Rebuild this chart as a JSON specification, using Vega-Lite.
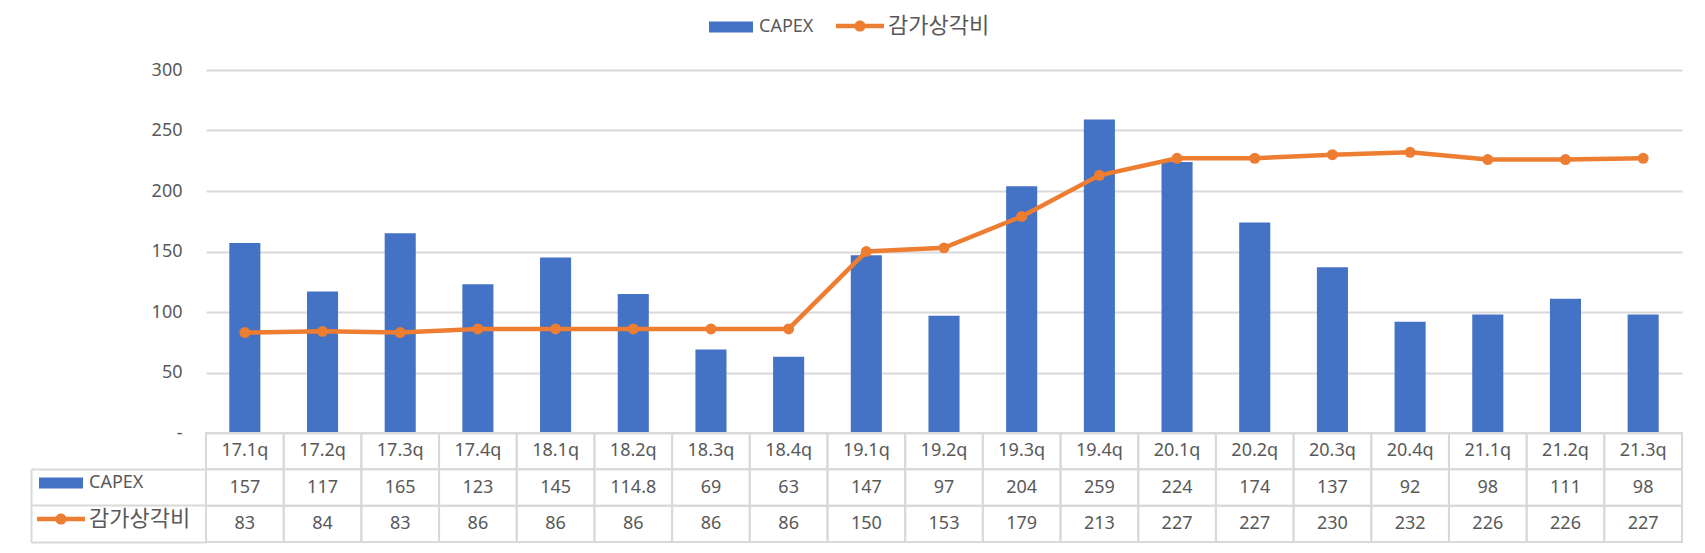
{
  "$schema": "https://vega.github.io/schema/vega-lite/v6.json",
  "padding": {"left": 30, "top": 15, "right": 5, "bottom": 5},
  "config": {"view": {"stroke": null}, "font": "Noto Sans"},
  "datasets": {
    "quarters": [
      {"q": "17.1q", "capex": 157, "dep": 83},
      {"q": "17.2q", "capex": 117, "dep": 84},
      {"q": "17.3q", "capex": 165, "dep": 83},
      {"q": "17.4q", "capex": 123, "dep": 86},
      {"q": "18.1q", "capex": 145, "dep": 86},
      {"q": "18.2q", "capex": 114.8, "dep": 86},
      {"q": "18.3q", "capex": 69, "dep": 86},
      {"q": "18.4q", "capex": 63, "dep": 86},
      {"q": "19.1q", "capex": 147, "dep": 150},
      {"q": "19.2q", "capex": 97, "dep": 153},
      {"q": "19.3q", "capex": 204, "dep": 179},
      {"q": "19.4q", "capex": 259, "dep": 213},
      {"q": "20.1q", "capex": 224, "dep": 227},
      {"q": "20.2q", "capex": 174, "dep": 227},
      {"q": "20.3q", "capex": 137, "dep": 230},
      {"q": "20.4q", "capex": 92, "dep": 232},
      {"q": "21.1q", "capex": 98, "dep": 226},
      {"q": "21.2q", "capex": 111, "dep": 226},
      {"q": "21.3q", "capex": 98, "dep": 227}
    ]
  },
  "spacing": 0,
  "bounds": "flush",
  "resolve": {
    "scale": {"x": "independent", "y": "independent", "color": "independent", "stroke": "independent"},
    "legend": {"color": "independent", "stroke": "independent"}
  },
  "vconcat": [
    {
      "width": 1476,
      "height": 363,
      "data": {"name": "quarters"},
      "encoding": {
        "x": {"field": "q", "type": "ordinal", "sort": null, "axis": null,
              "scale": {"paddingInner": 0.6, "paddingOuter": 0.3}}
      },
      "layer": [
        {
          "mark": {"type": "bar"},
          "encoding": {
            "y": {
              "field": "capex", "type": "quantitative",
              "scale": {"domain": [0, 300]},
              "axis": {
                "title": null,
                "values": [0, 50, 100, 150, 200, 250, 300],
                "labelExpr": "datum.value === 0 ? '-' : datum.label",
                "domain": false, "ticks": false,
                "labelPadding": 24, "labelFontSize": 18, "labelColor": "#595959", "labelFont": "Noto Sans",
                "gridColor": "#d9d9d9", "gridWidth": 2
              }
            },
            "color": {
              "datum": "CAPEX",
              "scale": {"domain": ["CAPEX", "감가상각비"], "range": ["#4472c4", "#ed7d31"]},
              "legend": {
                "orient": "none", "legendX": 496, "legendY": -55,
                "direction": "horizontal", "title": null,
                "symbolSize": 64, "symbolStrokeWidth": 0,
                "symbolOffset": 18, "labelOffset": 17, "columnPadding": 17,
                "labelFont": "Noto Sans", "labelFontSize": 18, "labelColor": "#595959", "labelLimit": 0,
                "encode": {
                  "symbols": {"update": {
                    "shape": {"signal": "datum.value === 'CAPEX' ? 'M-5.5,-1.375H5.5V1.375H-5.5Z' : 'M-6,-0.55H6V0.55H-6Z M1.4,0A1.4,1.4,0,1,1,-1.4,0A1.4,1.4,0,1,1,1.4,0Z'"},
                    "fill": {"signal": "datum.value === 'CAPEX' ? '#4472c4' : '#ed7d31'"},
                    "stroke": {"value": "transparent"},
                    "opacity": {"value": 1}
                  }},
                  "labels": {"update": {
                    "fontSize": {"signal": "datum.value === 'CAPEX' ? 18 : 22"},
                    "font": {"signal": "datum.value === 'CAPEX' ? 'Noto Sans' : 'Noto Sans CJK KR'"}
                  }}
                }
              }
            }
          }
        },
        {
          "mark": {"type": "line", "strokeWidth": 4.5, "strokeCap": "round",
                   "point": {"filled": true, "size": 120}},
          "encoding": {
            "y": {"field": "dep", "type": "quantitative", "axis": {"title": null}},
            "color": {"datum": "감가상각비"}
          }
        }
      ]
    },
    {
      "width": 1476,
      "height": 109,
      "data": {"name": "quarters"},
      "encoding": {
        "x": {"field": "q", "type": "ordinal", "sort": null, "axis": null,
              "scale": {"paddingInner": 0, "paddingOuter": 0}}
      },
      "layer": [
        {
          "mark": {"type": "rect", "filled": false, "stroke": "#d9d9d9", "strokeWidth": 2},
          "encoding": {
            "y": {
              "datum": "header", "type": "nominal",
              "scale": {"domain": ["header", "capex", "dep"], "paddingInner": 0, "paddingOuter": 0},
              "axis": {
                "orient": "left", "offset": 175, "title": null, "labels": false, "grid": false,
                "ticks": true, "tickSize": -175, "bandPosition": 1,
                "tickColor": "#d9d9d9", "tickWidth": 2,
                "domain": true, "domainColor": "#d9d9d9", "domainWidth": 2,
                "domainDash": [0, 36.33, 80]
              }
            }
          }
        },
        {
          "transform": [{"fold": ["capex", "dep"], "as": ["row", "val"]}],
          "mark": {"type": "rect", "filled": false, "strokeWidth": 2},
          "encoding": {
            "y": {"field": "row", "type": "nominal"},
            "stroke": {
              "field": "row", "type": "nominal",
              "scale": {"domain": ["capex", "dep"], "range": ["#d9d9d9", "#d9d9d9"]},
              "legend": {
                "orient": "none", "legendX": -174, "legendY": 39,
                "direction": "vertical", "title": null,
                "labelExpr": "datum.value === 'capex' ? 'CAPEX' : '감가상각비'",
                "symbolSize": 64, "symbolStrokeWidth": 0,
                "symbolOffset": 18, "labelOffset": 17, "rowPadding": 16,
                "labelFont": "Noto Sans", "labelFontSize": 18, "labelColor": "#595959", "labelLimit": 0,
                "encode": {
                  "symbols": {"update": {
                    "shape": {"signal": "datum.value === 'capex' ? 'M-5.5,-1.375H5.5V1.375H-5.5Z' : 'M-6,-0.55H6V0.55H-6Z M1.4,0A1.4,1.4,0,1,1,-1.4,0A1.4,1.4,0,1,1,1.4,0Z'"},
                    "fill": {"signal": "datum.value === 'capex' ? '#4472c4' : '#ed7d31'"},
                    "stroke": {"value": "transparent"},
                    "opacity": {"value": 1}
                  }},
                  "labels": {"update": {
                    "fontSize": {"signal": "datum.value === 'capex' ? 18 : 22"},
                    "font": {"signal": "datum.value === 'capex' ? 'Noto Sans' : 'Noto Sans CJK KR'"}
                  }}
                }
              }
            }
          }
        },
        {
          "mark": {"type": "text", "fontSize": 18, "color": "#595959", "font": "Noto Sans"},
          "encoding": {
            "y": {"datum": "header", "type": "nominal"},
            "text": {"field": "q", "type": "nominal"}
          }
        },
        {
          "transform": [{"fold": ["capex", "dep"], "as": ["row", "val"]}],
          "mark": {"type": "text", "fontSize": 18, "color": "#595959", "font": "Noto Sans"},
          "encoding": {
            "y": {"field": "row", "type": "nominal"},
            "text": {"field": "val", "type": "nominal"}
          }
        }
      ]
    }
  ]
}
